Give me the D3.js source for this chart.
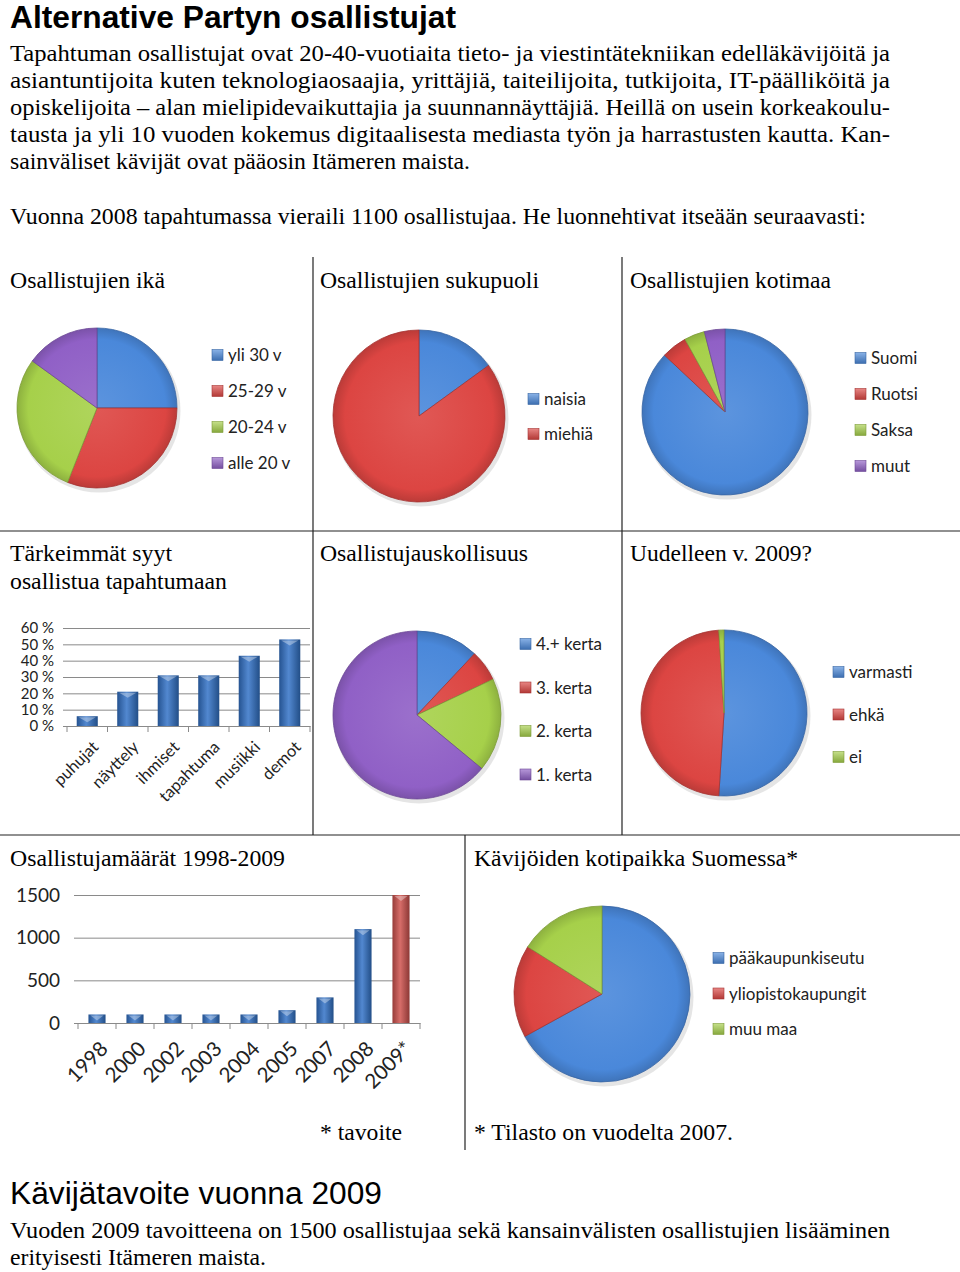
<!DOCTYPE html>
<html><head><meta charset="utf-8">
<script src="https://cdn.jsdelivr.net/npm/d3@7"></script>
<style>body{margin:0;background:#fff} svg{display:block}</style>
</head><body><svg id="c" width="960" height="1272"></svg>
<script>
// ---------- DATA ----------
const ageLabels = ["yli 30 v", "25-29 v", "20-24 v", "alle 20 v"];
const ageValues = [25, 31, 29, 15];
const genderLabels = ["naisia", "miehiä"];
const genderValues = [15, 85];
const countryLabels = ["Suomi", "Ruotsi", "Saksa", "muut"];
const countryValues = [87, 5, 4, 4];
const reasonLabels = ["puhujat", "näyttely", "ihmiset", "tapahtuma", "musiikki", "demot"];
const reasonValues = [6, 21, 31, 31, 43, 53];
const reasonTicks = [0, 10, 20, 30, 40, 50, 60];
const loyaltyLabels = ["4.+ kerta", "3. kerta", "2. kerta", "1. kerta"];
const loyaltyValues = [12, 6, 18, 64];
const againLabels = ["varmasti", "ehkä", "ei"];
const againValues = [51, 48, 1];
const yearLabels = ["1998", "2000", "2002", "2003", "2004", "2005", "2007", "2008", "2009*"];
const yearValues = [100, 100, 100, 100, 100, 150, 300, 1100, 1500];
const yearTicks = [0, 500, 1000, 1500];
const homeLabels = ["pääkaupunkiseutu", "yliopistokaupungit", "muu maa"];
const homeValues = [67, 17, 16];

const introLines = [
  "Tapahtuman osallistujat ovat 20-40-vuotiaita tieto- ja viestintätekniikan edelläkävijöitä ja",
  "asiantuntijoita kuten teknologiaosaajia, yrittäjiä, taiteilijoita, tutkijoita, IT-päälliköitä ja",
  "opiskelijoita – alan mielipidevaikuttajia ja suunnannäyttäjiä. Heillä on usein korkeakoulu-",
  "tausta ja yli 10 vuoden kokemus digitaalisesta mediasta työn ja harrastusten kautta. Kan-",
  "sainväliset kävijät ovat pääosin Itämeren maista."
];

// ---------- SETUP ----------
const C = { blue: "#4a88da", red: "#dc4542", green: "#a6d04a", purple: "#9060c6" };
const svg = d3.select("#c");
svg.append("rect").attr("width", 960).attr("height", 1272).attr("fill", "#fff");
const defs = svg.append("defs");
const SERIF = "Liberation Serif";
const SANS = "Liberation Sans";
const CAL = "Lato";

function txt(x, y, s, o = {}) {
  const t = svg.append("text").attr("x", x).attr("y", y).text(s)
    .style("font-family", o.family || SERIF)
    .attr("font-size", o.size || 24)
    .attr("font-weight", o.weight || "normal")
    .attr("fill", o.fill || "#000");
  if (o.width) t.attr("textLength", o.width).attr("lengthAdjust", "spacingAndGlyphs");
  return t;
}

// ---------- TEXT ----------
txt(10, 28, "Alternative Partyn osallistujat", { family: SANS, size: 32, weight: "bold", width: 446 });
const introW = [880, 880, 880, 880, 460];
introLines.forEach((l, i) => txt(10, 61 + i * 27, l, { width: introW[i] }));
txt(10, 224, "Vuonna 2008 tapahtumassa vieraili 1100 osallistujaa. He luonnehtivat itseään seuraavasti:", { width: 856 });

txt(10, 288, "Osallistujien ikä", { width: 155 });
txt(320, 288, "Osallistujien sukupuoli", { width: 219 });
txt(630, 288, "Osallistujien kotimaa", { width: 201 });
txt(10, 561, "Tärkeimmät syyt", { width: 162 });
txt(10, 589, "osallistua tapahtumaan", { width: 217 });
txt(320, 561, "Osallistujauskollisuus", { width: 208 });
txt(630, 561, "Uudelleen v. 2009?", { width: 182 });
txt(10, 866, "Osallistujamäärät 1998-2009", { width: 275 });
txt(474, 866, "Kävijöiden kotipaikka Suomessa*", { width: 324 });
txt(320, 1140, "* tavoite", { width: 82 });
txt(474, 1140, "* Tilasto on vuodelta 2007.", { width: 259 });
txt(10, 1204, "Kävijätavoite vuonna 2009", { family: SANS, size: 31, width: 372 });
txt(10, 1238, "Vuoden 2009 tavoitteena on 1500 osallistujaa sekä kansainvälisten osallistujien lisääminen", { width: 880 });
txt(10, 1265, "erityisesti Itämeren maista.", { width: 256 });

// ---------- TABLE LINES ----------
const ln = (x1, y1, x2, y2) => svg.append("line").attr("x1", x1).attr("y1", y1).attr("x2", x2).attr("y2", y2)
  .attr("stroke", "#222").attr("stroke-width", 1.2);
ln(313, 257, 313, 835);
ln(622, 257, 622, 835);
ln(0, 531, 960, 531);
ln(0, 835, 960, 835);
ln(465, 835, 465, 1150);

// ---------- PIES ----------
function pieChart(o) {
  const arcs = d3.pie().sort(null).value(d => d)(o.values);
  const arc = d3.arc().innerRadius(0).outerRadius(o.r);
  o.colors.forEach((c, i) => {
    const gr = defs.append("radialGradient").attr("id", `${o.id}-${i}`)
      .attr("gradientUnits", "userSpaceOnUse").attr("cx", 0).attr("cy", 0).attr("r", o.r);
    gr.append("stop").attr("offset", "0%").attr("stop-color", d3.interpolateRgb(c, "#fff")(0.1));
    gr.append("stop").attr("offset", "86%").attr("stop-color", c);
    gr.append("stop").attr("offset", "100%").attr("stop-color", d3.color(c).darker(0.45));
  });
  const g = svg.append("g").attr("transform", `translate(${o.cx},${o.cy})`);
  g.append("circle").attr("cx", 2).attr("cy", 3).attr("r", o.r + 1.5)
    .attr("fill", "#000").attr("opacity", 0.1);
  g.selectAll("path").data(arcs).join("path").attr("d", arc)
    .attr("fill", (d, i) => `url(#${o.id}-${i})`)
    .attr("stroke", (d, i) => d3.color(o.colors[i]).darker(0.8))
    .attr("stroke-width", 0.8);
  const lg = svg.append("g");
  o.labels.forEach((l, i) => {
    const y = o.ly + i * o.gap;
    const c = o.colors[i];
    const sg = defs.append("linearGradient").attr("id", `${o.id}-lg-${i}`).attr("x1", 0).attr("y1", 0).attr("x2", 0).attr("y2", 1);
    sg.append("stop").attr("offset", "0%").attr("stop-color", d3.interpolateRgb(c, "#fff")(0.35));
    sg.append("stop").attr("offset", "100%").attr("stop-color", d3.color(c).darker(0.6));
    lg.append("rect").attr("x", o.lx).attr("y", y - 5.5).attr("width", 11).attr("height", 11)
      .attr("fill", `url(#${o.id}-lg-${i})`).attr("stroke", d3.color(c).darker(0.8)).attr("stroke-width", 0.6);
    lg.append("text").attr("x", o.lx + 16).attr("y", y + 6).text(l)
      .style("font-family", CAL).attr("font-size", 17).attr("fill", "#222");
  });
}

pieChart({ id: "age", cx: 97, cy: 408, r: 80, values: ageValues, labels: ageLabels,
  colors: [C.blue, C.red, C.green, C.purple], lx: 212, ly: 355, gap: 36 });
pieChart({ id: "gen", cx: 419, cy: 416, r: 86, values: genderValues, labels: genderLabels,
  colors: [C.blue, C.red], lx: 528, ly: 399, gap: 35 });
pieChart({ id: "cty", cx: 725, cy: 412, r: 83, values: countryValues, labels: countryLabels,
  colors: [C.blue, C.red, C.green, C.purple], lx: 855, ly: 358, gap: 36 });
pieChart({ id: "loy", cx: 417, cy: 715, r: 84, values: loyaltyValues, labels: loyaltyLabels,
  colors: [C.blue, C.red, C.green, C.purple], lx: 520, ly: 644, gap: 43.5 });
pieChart({ id: "agn", cx: 724, cy: 713, r: 83, values: againValues, labels: againLabels,
  colors: [C.blue, C.red, C.green], lx: 833, ly: 672, gap: 42.5 });
pieChart({ id: "hom", cx: 602, cy: 994, r: 88, values: homeValues, labels: homeLabels,
  colors: [C.blue, C.red, C.green], lx: 713, ly: 958, gap: 35.5 });

// ---------- BAR CHARTS ----------
function barGrad(id, c) {
  const gr = defs.append("linearGradient").attr("id", id).attr("x1", 0).attr("x2", 1).attr("y1", 0).attr("y2", 0);
  gr.append("stop").attr("offset", "0%").attr("stop-color", d3.color(c).darker(0.9));
  gr.append("stop").attr("offset", "45%").attr("stop-color", d3.interpolateRgb(c, "#fff")(0.15));
  gr.append("stop").attr("offset", "100%").attr("stop-color", d3.color(c).darker(1.1));
}
barGrad("bar-blue", "#3373c8");
barGrad("bar-red", "#d0534f");

function barChart(o) {
  const g = svg.append("g");
  const x = d3.scaleBand().domain(o.labels).range([o.x0, o.x1])
    .paddingInner(o.pad).paddingOuter(o.pad / 2);
  const y = d3.scaleLinear().domain([0, o.max]).range([o.yBot, o.yTop]);
  const ax = g.append("g").attr("transform", `translate(${o.x0},0)`)
    .call(d3.axisLeft(y).tickValues(o.ticks).tickFormat(o.fmt)
      .tickSize(-(o.x1 - o.x0)).tickPadding(o.tickPad).tickSizeOuter(0));
  ax.select(".domain").remove();
  ax.selectAll(".tick line").attr("stroke", "#8a8a8a").attr("x1", -4);
  ax.selectAll(".tick text").style("font-family", CAL).attr("font-size", o.fs).attr("fill", "#222");
  g.selectAll("rect.bar").data(o.values).join("rect").attr("class", "bar")
    .attr("x", (d, i) => x(o.labels[i])).attr("width", x.bandwidth())
    .attr("y", d => y(d)).attr("height", d => y(0) - y(d))
    .attr("fill", (d, i) => `url(#${o.colorFn(i)})`);
  g.selectAll("path.cap").data(o.values).join("path").attr("class", "cap")
    .attr("d", (d, i) => {
      const x0 = x(o.labels[i]), w = x.bandwidth(), t = y(d);
      return `M${x0 + 2},${t + 1}L${x0 + w - 2},${t + 1}L${x0 + w / 2},${t + 6}Z`;
    })
    .attr("fill", "#fff").attr("opacity", 0.35);
  const xa = g.append("g").attr("transform", `translate(0,${o.yBot})`)
    .call(d3.axisBottom(x).tickSize(0).tickFormat(""));
  xa.select(".domain").attr("stroke", "#8a8a8a");
  const step = x.step();
  d3.range(o.labels.length + 1).forEach(k => {
    g.append("line").attr("x1", o.x0 + k * step).attr("x2", o.x0 + k * step)
      .attr("y1", o.yBot).attr("y2", o.yBot + 6).attr("stroke", "#8a8a8a");
  });
  g.selectAll("text.xl").data(o.labels).join("text").attr("class", "xl")
    .attr("transform", d => `translate(${x(d) + x.bandwidth() / 2 + o.lxOff},${o.yBot + o.lyOff}) rotate(-45)`)
    .attr("text-anchor", "end").attr("dy", "0.35em")
    .style("font-family", CAL).attr("font-size", o.xfs).attr("fill", "#222").text(d => d);
}

barChart({ labels: reasonLabels, values: reasonValues, ticks: reasonTicks, fmt: d => d + " %",
  x0: 67, x1: 310, yTop: 628, yBot: 726, max: 60, pad: 0.48, fs: 15, xfs: 16.5, tickPad: 13,
  lxOff: 8, lyOff: 18, colorFn: () => "bar-blue" });
barChart({ labels: yearLabels, values: yearValues, ticks: yearTicks, fmt: d => d,
  x0: 78, x1: 420, yTop: 895, yBot: 1023, max: 1500, pad: 0.55, fs: 19, xfs: 20.5, tickPad: 18,
  lxOff: 7, lyOff: 22, colorFn: i => i === yearLabels.length - 1 ? "bar-red" : "bar-blue" });
</script></body></html>
